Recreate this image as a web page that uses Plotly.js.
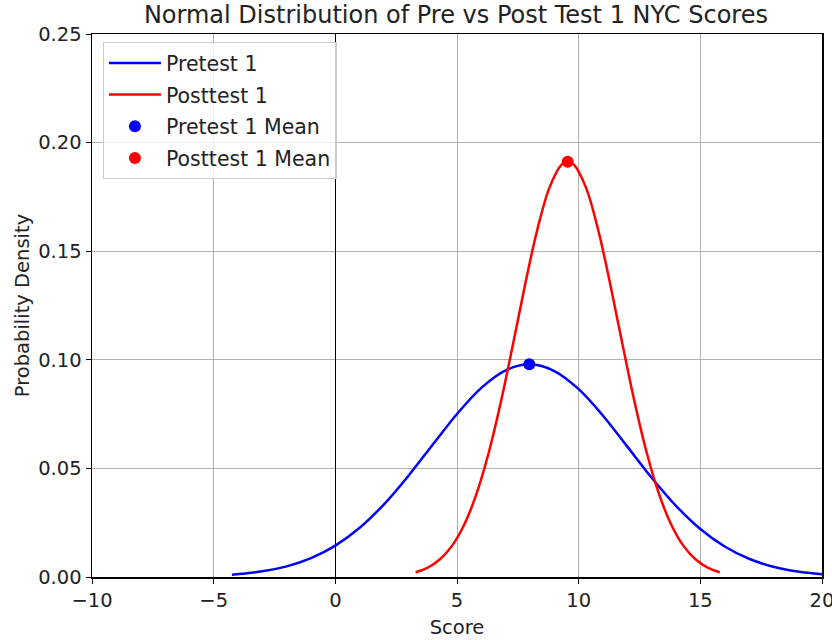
<!DOCTYPE html>
<html>
<head>
<meta charset="utf-8">
<script src="https://cdn.plot.ly/plotly-3.0.1.min.js"></script>
<style>html,body{margin:0;padding:0;background:#fff;}#chart{width:832px;height:640px;}</style>
</head>
<body>
<div id="chart"></div>
<script>
// Pretest 1 curve
const preX = [-4.25, -3, -2, -1, 0, 1, 2, 3, 4, 5, 6, 7, 8, 9, 10, 11, 12, 13, 14, 15, 16, 17, 18, 19, 20];
const preY = [0.00109, 0.00261, 0.00491, 0.00868, 0.01446, 0.02267, 0.03347, 0.04654, 0.06091, 0.07506, 0.08710, 0.09517, 0.09790, 0.09482, 0.08648, 0.07425, 0.06003, 0.04570, 0.03276, 0.02211, 0.01405, 0.00841, 0.00473, 0.00251, 0.00125];
// Posttest 1 curve
const postX = [3.30, 3.80, 4.30, 4.80, 5.30, 5.80, 6.30, 6.80, 7.30, 7.80, 8.30, 8.80, 9.30, 9.55, 9.80, 10.30, 10.80, 11.30, 11.80, 12.30, 12.80, 13.30, 13.80, 14.30, 14.80, 15.30, 15.80];
const postY = [0.00219, 0.00434, 0.00815, 0.01445, 0.02419, 0.03823, 0.05707, 0.08045, 0.10711, 0.13467, 0.15989, 0.17928, 0.18984, 0.19120, 0.18984, 0.17928, 0.15989, 0.13467, 0.10711, 0.08045, 0.05707, 0.03823, 0.02419, 0.01445, 0.00815, 0.00434, 0.00219];
// Means
const preMeanX = [7.97];
const preMeanY = [0.0979];
const postMeanX = [9.55];
const postMeanY = [0.1912];
const seriesNames = ["Pretest 1", "Posttest 1", "Pretest 1 Mean", "Posttest 1 Mean"];
const xTicks = [-10, -5, 0, 5, 10, 15, 20];
const xTickText = ["\u221210", "\u22125", "0", "5", "10", "15", "20"];
const yTicks = [0, 0.05, 0.10, 0.15, 0.20, 0.25];
const yTickText = ["0.00", "0.05", "0.10", "0.15", "0.20", "0.25"];

const font = "DejaVu Sans, sans-serif";
const fs = 19.5;
const traces = [
  {x: preX, y: preY, mode: "lines", name: seriesNames[0], legendgroup: "a", line: {color: "#0000ff", width: 2.5, shape: "spline"}},
  {x: postX, y: postY, mode: "lines", name: seriesNames[1], legendgroup: "b", line: {color: "#ff0000", width: 2.5, shape: "spline"}},
  {x: preMeanX, y: preMeanY, mode: "markers", name: seriesNames[2], legendgroup: "c", marker: {color: "#0000ff", size: 12}},
  {x: postMeanX, y: postMeanY, mode: "markers", name: seriesNames[3], legendgroup: "d", marker: {color: "#ff0000", size: 12}}
];
const layout = {
  width: 832, height: 640,
  margin: {l: 92, r: 10, t: 34, b: 63},
  paper_bgcolor: "#fff", plot_bgcolor: "#fff",
  font: {family: font, size: fs, color: "#222"},
  title: {text: "Normal Distribution of Pre vs Post Test 1 NYC Scores", font: {family: font, size: 24, color: "#222"}, x: 0.548, xanchor: "center", y: 0.99, yanchor: "top"},
  xaxis: {
    range: [-10, 20], tickvals: xTicks, ticktext: xTickText,
    showgrid: true, gridcolor: "#b0b0b0", gridwidth: 1,
    zeroline: true, zerolinecolor: "#000", zerolinewidth: 1.5,
    showline: true, linecolor: "#000", linewidth: 1.5, mirror: true,
    ticks: "outside", ticklen: 5, tickcolor: "#000",
    ticklabeloverflow: "allow",
    tickfont: {family: font, size: fs, color: "#222"},
    title: {text: "Score", font: {family: font, size: fs, color: "#222"}, standoff: 9}
  },
  yaxis: {
    range: [0, 0.25], tickvals: yTicks, ticktext: yTickText,
    showgrid: true, gridcolor: "#b0b0b0", gridwidth: 1,
    zeroline: false,
    showline: true, linecolor: "#000", linewidth: 1.5, mirror: true,
    ticks: "outside", ticklen: 5, tickcolor: "#000",
    tickfont: {family: font, size: fs, color: "#222"},
    title: {text: "Probability Density", font: {family: font, size: fs, color: "#222"}, standoff: 3}
  },
  legend: {
    x: 0.015, y: 0.985, xanchor: "left", yanchor: "top",
    bgcolor: "rgba(255,255,255,0.8)", bordercolor: "#cccccc", borderwidth: 1,
    font: {family: font, size: 20.5, color: "#222"},
    itemwidth: 52, tracegroupgap: 2
  },
  showlegend: true
};
Plotly.newPlot("chart", traces, layout, {displayModeBar: false, staticPlot: true});
</script>
</body>
</html>
